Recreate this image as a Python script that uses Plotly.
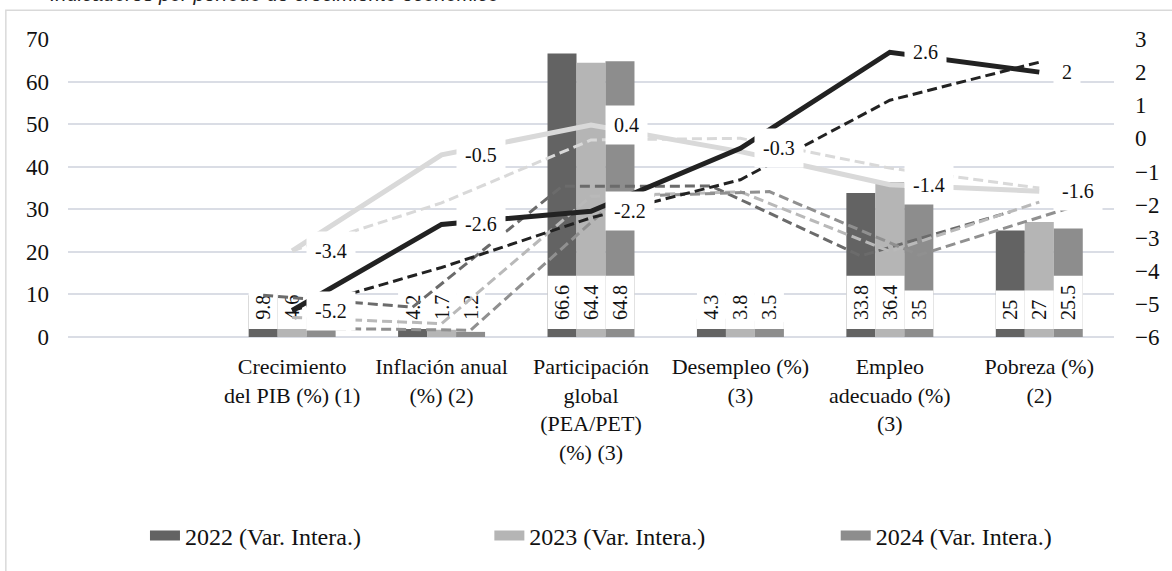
import plotly.graph_objects as go

# ---------------- data ----------------
categories = ["",
              "Crecimiento<br>del PIB (%) (1)",
              "Inflación anual<br>(%) (2)",
              "Participación<br>global<br>(PEA/PET)<br>(%) (3)",
              "Desempleo (%)<br>(3)",
              "Empleo<br>adecuado (%)<br>(3)",
              "Pobreza (%)<br>(2)"]
series_names = ["2022 (Var. Intera.)", "2023 (Var. Intera.)", "2024 (Var. Intera.)"]
bars_2022 = [None, 9.8, 4.2, 66.6, 4.3, 33.8, 25]
bars_2023 = [None, 4.6, 1.7, 64.4, 3.8, 36.4, 27]
bars_2024 = [None, 2.0, 1.2, 64.8, 3.5, 35, 25.5]
line_dark = [None, -5.2, -2.6, -2.2, -0.3, 2.6, 2]
line_light = [None, -3.4, -0.5, 0.4, -0.4, -1.4, -1.6]
# labels of the light line hidden behind other labels in the original
light_hidden = [4]
title_text = "Indicadores por período de crecimiento económico"

# ---------------- styling ----------------
W, H = 1172, 571
ML, MR, MT, MB = 68, 44, 39, 231
PLOT_W = W - ML - MR
PLOT_H = H - MT - MB
Y1_MAX = 70
PX_PER_UNIT = PLOT_H / Y1_MAX
FONT = "Liberation Serif"
BARGAP = 0.418
BAR_W = (1 - BARGAP) / 3
bar_colors = ["#636363", "#b5b5b5", "#8d8d8d"]
trend_colors = ["#6b6b6b", "#b9b9b9", "#909090"]
DARK = "#222222"
LIGHT = "#d9d9d9"
GRID = "#dadde5"
DASH = "10px,5px"
LABEL_SIZE = 20
LABEL_BASE = 1.85
legend_left_px = [146, 495, 846]
LEGEND_Y_PX = 541


def fmt(v):
    return f"{v:g}"


def text_px(s, size=LABEL_SIZE):
    w = 0
    for ch in s:
        if ch.isdigit():
            w += 0.5
        elif ch == ".":
            w += 0.25
        else:
            w += 0.333
    return w * size


def moving_avg(vals):
    out = []
    for i, v in enumerate(vals):
        if v is None:
            out.append(None)
        elif i > 0 and vals[i - 1] is not None:
            out.append((vals[i - 1] + v) / 2)
        else:
            out.append(v)
    return out


xs = list(range(len(categories)))
fig = go.Figure()

bar_series = [bars_2022, bars_2023, bars_2024]
groups = ["g22", "g23", "g24"]

# bars
for k, vals in enumerate(bar_series):
    fig.add_trace(go.Bar(x=xs, y=vals, marker=dict(color=bar_colors[k], line=dict(width=0)),
                         offsetgroup=groups[k], showlegend=False, hoverinfo="skip"))
# white label boxes carrying the bar values
for k, vals in enumerate(bar_series):
    labels = ["" if v is None else fmt(v) for v in vals]
    heights = [None if v is None else (text_px(fmt(v)) + 19) / PX_PER_UNIT for v in vals]
    fig.add_trace(go.Bar(x=xs, y=heights, base=LABEL_BASE, text=labels,
                         textposition="inside", insidetextanchor="middle", textangle=-90,
                         constraintext="none",
                         textfont=dict(family=FONT, size=LABEL_SIZE, color="#111111"),
                         marker=dict(color="white", line=dict(width=0)),
                         offsetgroup=groups[k], showlegend=False, hoverinfo="skip"))
# moving-average trendlines of the bar series (through bar centres)
for k, vals in enumerate(bar_series):
    ma = moving_avg(vals)
    fig.add_trace(go.Scatter(x=[i + (k - 1) * BAR_W for i in xs], y=ma, mode="lines",
                             line=dict(color=trend_colors[k], width=3, dash=DASH),
                             showlegend=False, hoverinfo="skip"))

# secondary-axis lines and their moving-average trendlines
fig.add_trace(go.Scatter(x=xs, y=line_light, mode="lines", yaxis="y2",
                         line=dict(color=LIGHT, width=5), showlegend=False, hoverinfo="skip"))
fig.add_trace(go.Scatter(x=xs, y=moving_avg(line_light), mode="lines", yaxis="y2",
                         line=dict(color=LIGHT, width=3, dash=DASH), showlegend=False, hoverinfo="skip"))
fig.add_trace(go.Scatter(x=xs, y=line_dark, mode="lines", yaxis="y2",
                         line=dict(color=DARK, width=5), showlegend=False, hoverinfo="skip"))
fig.add_trace(go.Scatter(x=xs, y=moving_avg(line_dark), mode="lines", yaxis="y2",
                         line=dict(color=DARK, width=3, dash=DASH), showlegend=False, hoverinfo="skip"))

# legend entries (one legend per series so the spacing matches)
legend_names = ["legend", "legend2", "legend3"]
for k, name in enumerate(series_names):
    fig.add_trace(go.Scatter(x=[None], y=[None], mode="lines", name=name,
                             legend=legend_names[k],
                             line=dict(color=bar_colors[k], width=10)))

# line data labels
for vals, hidden in ((line_light, light_hidden), (line_dark, [])):
    for i, v in enumerate(vals):
        if v is None or i in hidden:
            continue
        fig.add_annotation(x=i, y=v, xref="x", yref="y2", text=fmt(v), showarrow=False,
                           xanchor="left", yanchor="middle", xshift=14,
                           bgcolor="white", borderpad=8,
                           font=dict(family=FONT, size=LABEL_SIZE, color="#111111"))

# cut-off caption at the very top
fig.add_annotation(text="<i>" + title_text + "</i>", xref="paper", yref="paper",
                   x=(48 - ML) / PLOT_W, y=(PLOT_H + MT - 7) / PLOT_H,
                   xanchor="left", yanchor="bottom", showarrow=False,
                   font=dict(family="Liberation Sans", size=20, color="#222222"))

# chart-area border
fig.add_shape(type="rect", xref="paper", yref="paper",
              x0=(5 - ML) / PLOT_W, x1=1.3, y0=-1.5, y1=(PLOT_H + MT - 10) / PLOT_H,
              line=dict(color="#d9d9d9", width=1.5), fillcolor="rgba(0,0,0,0)", layer="below")

legend_common = dict(orientation="h", xanchor="left", yanchor="middle",
                     y=(MT + PLOT_H - LEGEND_Y_PX) / PLOT_H,
                     font=dict(family=FONT, size=24, color="#111111"),
                     bgcolor="rgba(0,0,0,0)")

fig.update_layout(
    width=W, height=H,
    margin=dict(l=ML, r=MR, t=MT, b=MB),
    paper_bgcolor="white", plot_bgcolor="white",
    barmode="group", bargap=BARGAP, bargroupgap=0,
    font=dict(family=FONT, size=23, color="#111111"),
    xaxis=dict(range=[-0.5, len(categories) - 0.5], tickmode="array", tickvals=xs,
               ticktext=categories, showgrid=False, zeroline=False, showline=False,
               ticks="", ticklabelstandoff=14, tickfont=dict(family=FONT, size=22)),
    yaxis=dict(range=[0, Y1_MAX], dtick=10, showgrid=True, gridcolor=GRID, gridwidth=1.5,
               zeroline=True, zerolinecolor=GRID, zerolinewidth=1.5, showline=False,
               ticks="", ticklabelstandoff=18, tickfont=dict(family=FONT, size=23)),
    yaxis2=dict(range=[-6, 3], dtick=1, overlaying="y", side="right", showgrid=False,
                zeroline=False, showline=False, ticks="", ticklabelstandoff=20,
                tickfont=dict(family=FONT, size=23)),
    legend=dict(x=(legend_left_px[0] - ML) / PLOT_W, **legend_common),
    legend2=dict(x=(legend_left_px[1] - ML) / PLOT_W, **legend_common),
    legend3=dict(x=(legend_left_px[2] - ML) / PLOT_W, **legend_common),
)

fig.write_html("out.html", config={"displayModeBar": False},
               post_script="document.body.style.margin='0px';")
